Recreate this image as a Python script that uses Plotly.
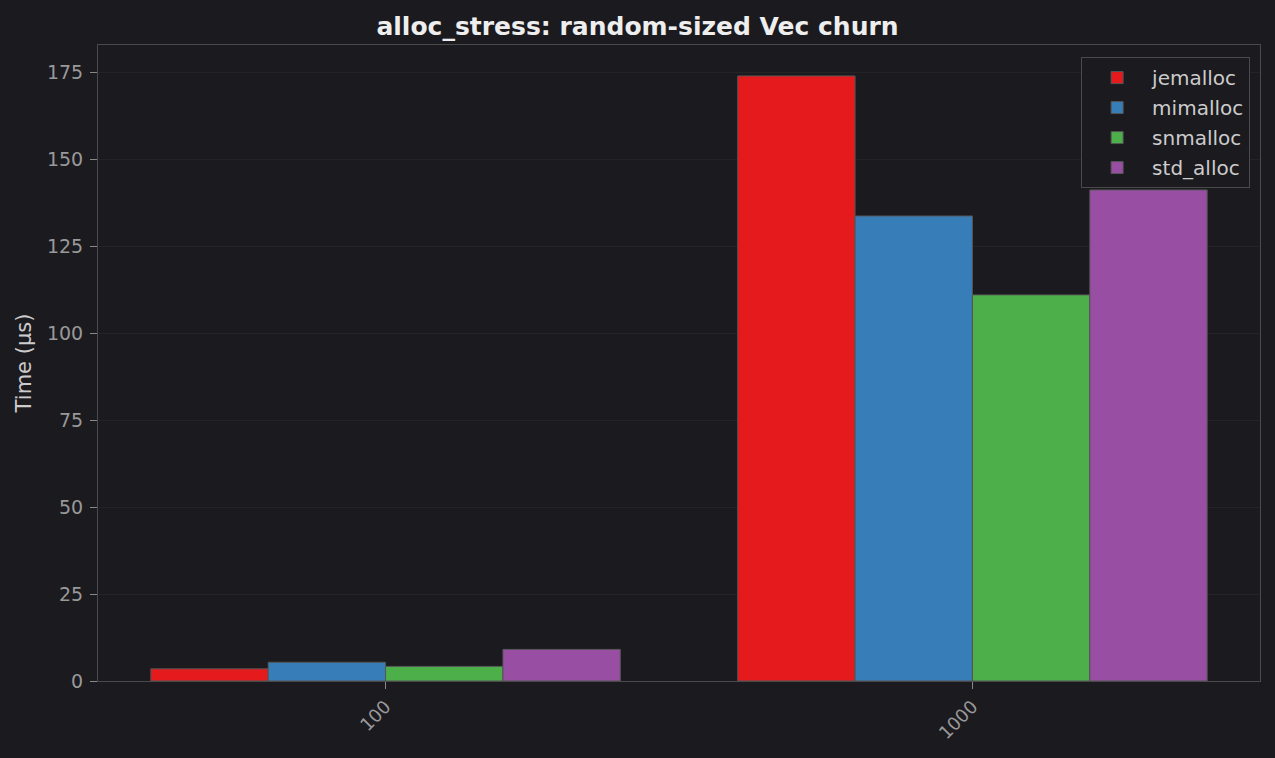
import plotly.graph_objects as go

categories = ["100", "1000"]
series_names = ["jemalloc", "mimalloc", "snmalloc", "std_alloc"]
jemalloc = [3.5, 174.1]
mimalloc = [5.4, 133.8]
snmalloc = [4.2, 111.1]
std_alloc = [9.1, 141.3]
values = [jemalloc, mimalloc, snmalloc, std_alloc]
colors = ["#e41a1c", "#377eb8", "#4daf4a", "#984ea3"]

BG = "#1b1a1f"
fig = go.Figure()
for name, vals, col in zip(series_names, values, colors):
    fig.add_trace(go.Bar(
        x=categories, y=vals, name=name, legendgroup=name,
        marker=dict(color=col, line=dict(color="#555555", width=1)),
    ))

fig.update_layout(
    width=1275, height=758,
    paper_bgcolor=BG, plot_bgcolor=BG,
    barmode="group", bargap=0.2, bargroupgap=0,
    font=dict(family="DejaVu Sans", color="#cccccc"),
    title=dict(text="<b>alloc_stress: random-sized Vec churn</b>", x=0.5, xanchor="center",
               y=1 - 26 / 758, yanchor="middle", font=dict(size=25, color="#eeeeee")),
    margin=dict(l=98, r=15, t=45, b=77),
    showlegend=True,
    legend=dict(x=0.9915, y=0.981, xanchor="right", yanchor="top",
                bgcolor=BG, bordercolor="#4a4a4a", borderwidth=1,
                font=dict(size=20, color="#cccccc"), itemwidth=60,
                tracegroupgap=1),
    xaxis=dict(type="category", range=[-0.49, 1.49], tickangle=-45,
               ticks="outside", ticklen=7, tickcolor="#888888",
               tickfont=dict(size=18, color="#999999"),
               showgrid=False, showline=True, linecolor="#4a4a4a", mirror=True,
               zeroline=False),
    yaxis=dict(range=[0, 183], tickvals=[0, 25, 50, 75, 100, 125, 150, 175],
               ticks="outside", ticklen=7, tickcolor="#888888",
               tickfont=dict(size=19, color="#999999"), ticklabelstandoff=3,
               title=dict(text="Time (µs)", font=dict(size=21, color="#cccccc"), standoff=9),
               showgrid=True, gridcolor="#242328", gridwidth=1,
               showline=True, linecolor="#4a4a4a", mirror=True, zeroline=False),
)

fig.write_html("out.html", config={"displayModeBar": False},
               post_script="document.body.style.margin='0';")
